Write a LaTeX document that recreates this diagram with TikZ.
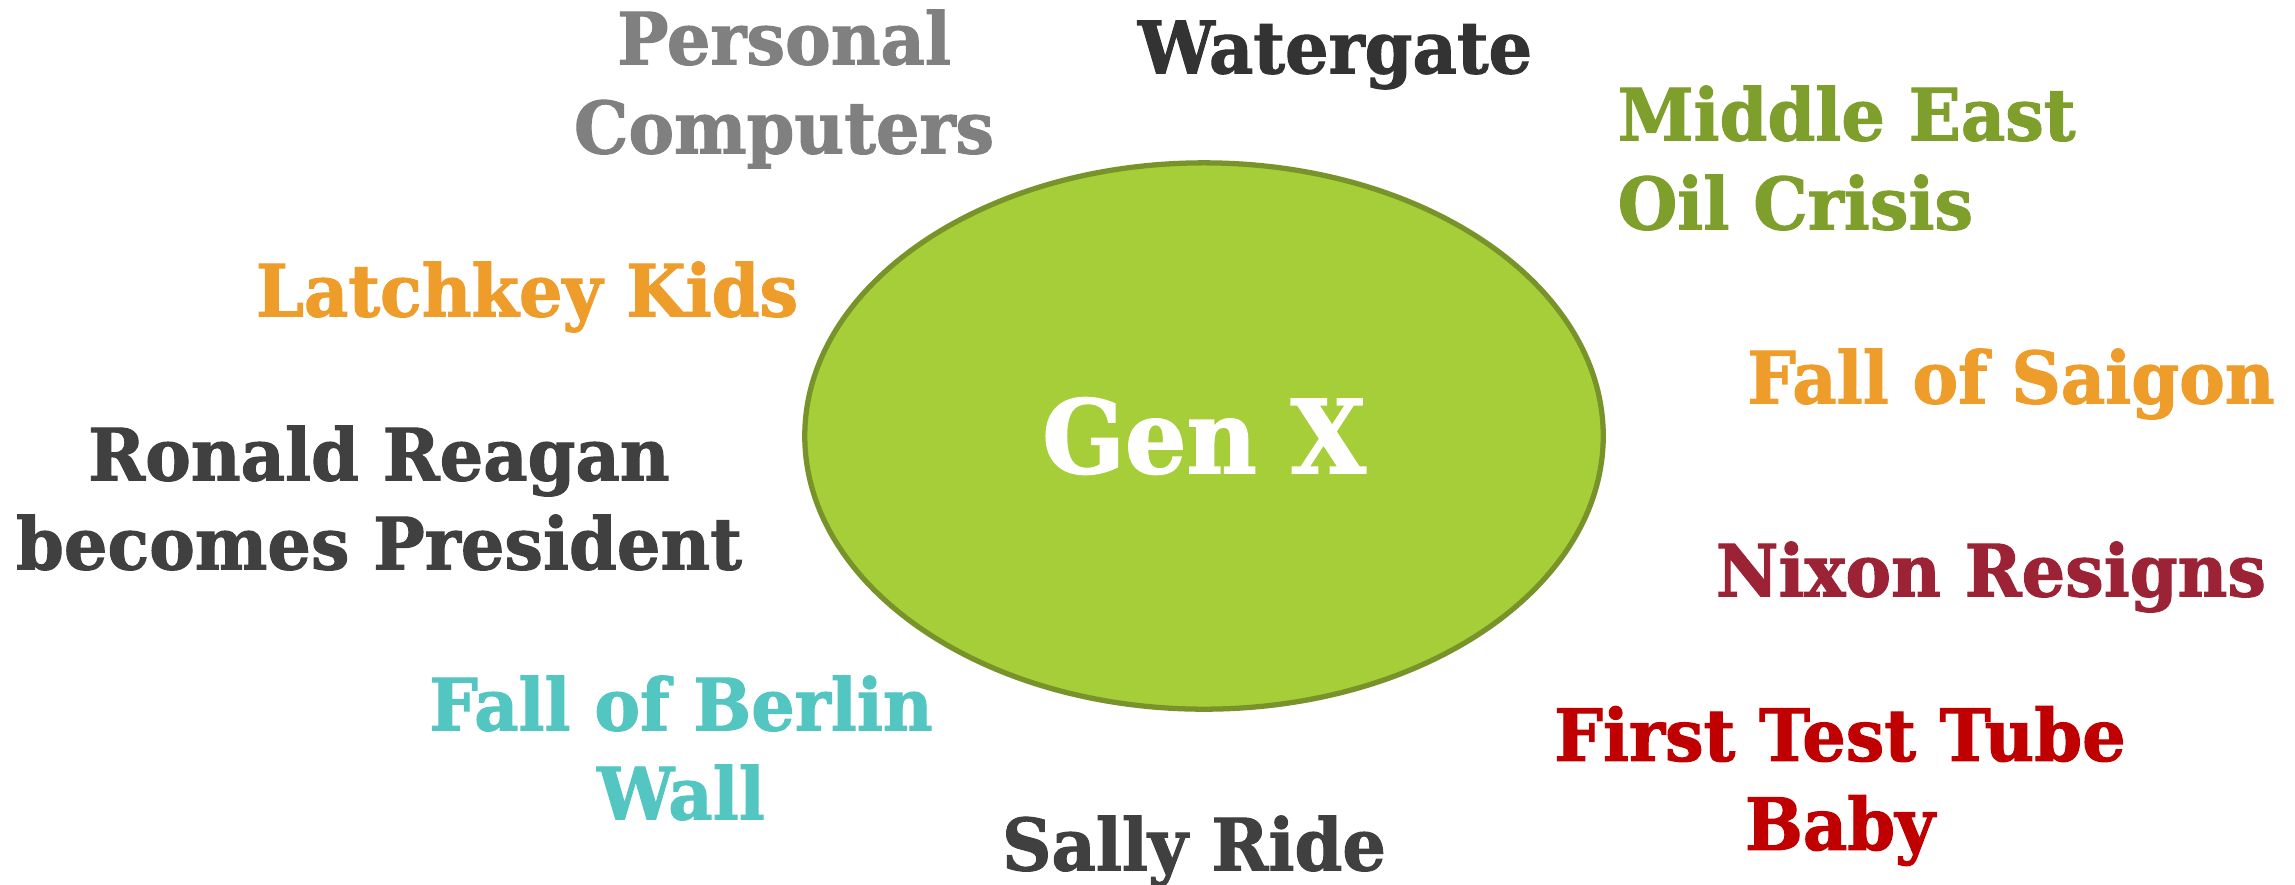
\documentclass[tikz,border=0pt]{standalone}
\usepackage{fontspec}
\setmainfont[FakeStretch=0.95,BoldFeatures={FakeBold=1.5}]{DejaVu Serif}
\usetikzlibrary{shapes.geometric}

\definecolor{genfill}{HTML}{A6CE39}
\definecolor{genline}{HTML}{77932A}
\definecolor{olive}{HTML}{7F9F2C}
\definecolor{orangeish}{HTML}{EE9D2A}
\definecolor{darkred}{HTML}{9B2335}
\definecolor{brightred}{HTML}{C00000}
\definecolor{teal}{HTML}{53C6C2}
\definecolor{midgray}{HTML}{808080}
\definecolor{darkgray}{HTML}{404040}
\definecolor{nearblack}{HTML}{333333}

\begin{document}
\begin{tikzpicture}[
    x=0.01cm, y=-0.01cm,
    event/.style={align=center,font=\fontsize{20.5}{25.3}\selectfont\bfseries,inner sep=0pt},
    core/.style={ellipse,draw=genline,line width=1.5pt,fill=genfill,
                 minimum width=7.98cm,minimum height=5.46cm,
                 text=white,font=\fontsize{29}{34}\selectfont\bfseries}
]
\useasboundingbox (0,0) rectangle (2295,884);

% centre bubble
\node[core] (genx) at (1204,436) {Gen X};

% events around it
\node[event,text=midgray] (pc) at (784,89) {Personal\\Computers};
\node[event,text=nearblack] (watergate) at (1335,55) {Watergate};
\node[event,text=olive,align=left,anchor=west] (oil) at (1617,158) {Middle East\\Oil Crisis};
\node[event,text=orangeish] (latchkey) at (527,297) {Latchkey Kids};
\node[event,text=orangeish] (saigon) at (2011,384) {Fall of Saigon};
\node[event,text=darkgray] (reagan) at (379,498) {Ronald Reagan\\becomes President};
\node[event,text=darkred] (nixon) at (1991,577) {Nixon Resigns};
\node[event,text=teal] (berlin) at (681,748) {Fall of Berlin\\Wall};
\node[event,text=brightred] (baby) at (1840,786) {First Test Tube\\Baby};
\node[event,text=darkgray] (ride) at (1194,851) {Sally Ride};

\end{tikzpicture}
\end{document}
